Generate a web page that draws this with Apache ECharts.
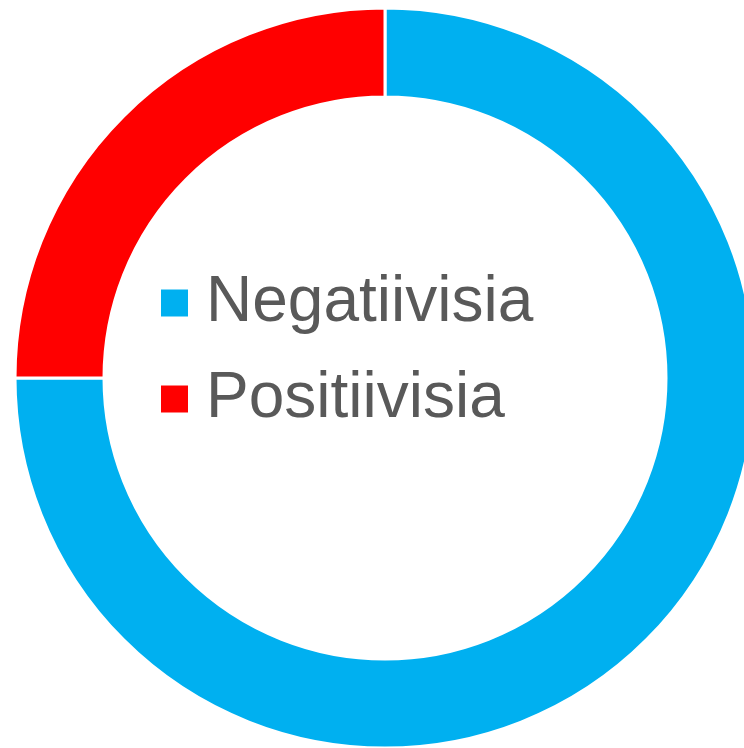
<!DOCTYPE html>
<html><head><meta charset="utf-8">
<script src="https://cdn.jsdelivr.net/npm/echarts@6/dist/echarts.min.js"></script>
<style>html,body{margin:0;padding:0;background:#fff}#c{width:744px;height:748px}</style>
</head><body><div id="c"></div>
<script>
const categories = ['Negatiivisia', 'Positiivisia'];
const values = [75, 25];
const colors = ['#00B0F0', '#FF0000'];

const chart = echarts.init(document.getElementById('c'), null, {renderer: 'canvas'});
chart.setOption({
  animation: false,
  color: colors,
  legend: {
    orient: 'vertical',
    left: 154,
    top: 266,
    padding: 5,
    icon: 'rect',
    itemWidth: 29,
    itemHeight: 29,
    itemGap: 32,
    data: categories,
    textStyle: {
      fontFamily: '"Liberation Sans", Arial, sans-serif',
      fontSize: 64,
      lineHeight: 64,
      color: '#595959',
      padding: [0, 0, 0, 12]
    }
  },
  series: [{
    type: 'pie',
    center: [385, 378],
    radius: [281, 370],
    startAngle: 90,
    clockwise: true,
    label: {show: false},
    labelLine: {show: false},
    silent: true,
    itemStyle: {borderColor: '#ffffff', borderWidth: 3},
    data: categories.map((c, i) => ({name: c, value: values[i]}))
  }]
});
</script></body></html>
